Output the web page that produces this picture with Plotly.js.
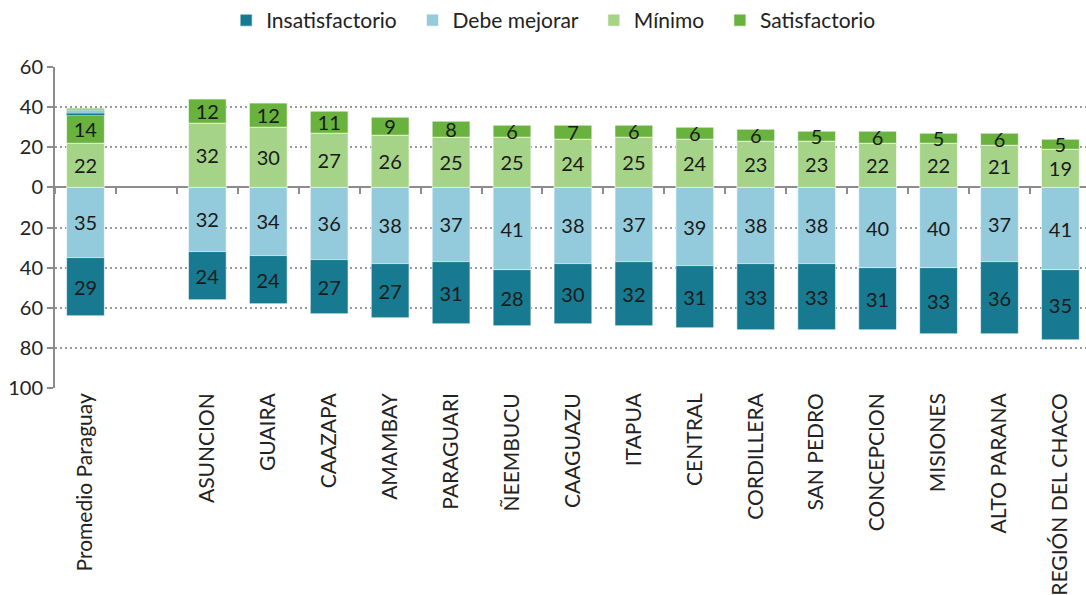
<!DOCTYPE html>
<html>
<head>
<meta charset="utf-8">
<script src="https://cdn.plot.ly/plotly-3.0.1.min.js"></script>
<style>html,body{margin:0;padding:0;background:#fff;}#chart{width:1086px;height:595px;}</style>
</head>
<body>
<div id="chart"></div>
<script>
const categories = ["Promedio Paraguay", " ", "ASUNCION", "GUAIRA", "CAAZAPA", "AMAMBAY", "PARAGUARI", "ÑEEMBUCU", "CAAGUAZU", "ITAPUA", "CENTRAL", "CORDILLERA", "SAN PEDRO", "CONCEPCION", "MISIONES", "ALTO PARANA", "REGIÓN DEL CHACO"];
const insatisfactorio = [29, null, 24, 24, 27, 27, 31, 28, 30, 32, 31, 33, 33, 31, 33, 36, 35];
const debeMejorar     = [35, null, 32, 34, 36, 38, 37, 41, 38, 37, 39, 38, 38, 40, 40, 37, 41];
const minimo          = [22, null, 32, 30, 27, 26, 25, 25, 24, 25, 24, 23, 23, 22, 22, 21, 19];
const satisfactorio   = [14, null, 12, 12, 11, 9, 8, 6, 7, 6, 6, 6, 5, 6, 5, 6, 5];
// small extra slivers drawn on top of the national average bar in the original
const extraTeal  = [1, null, null, null, null, null, null, null, null, null, null, null, null, null, null, null, null];
const extraBlue  = [1.5, null, null, null, null, null, null, null, null, null, null, null, null, null, null, null, null];
const extraGreen = [1, null, null, null, null, null, null, null, null, null, null, null, null, null, null, null, null];
const yTickVals = [-100, -80, -60, -40, -20, 0, 20, 40, 60];
const yTickText = ["100", "80", "60", "40", "20", "0", "20", "40", "60"];

const C_INS = "#177a90", C_DEB = "#93cbdc", C_MIN = "#a5d488", C_SAT = "#69b23d";
const FONT = "Lato, 'Liberation Sans', sans-serif";
const PAD = "\u00a0\u00a0";
const neg = a => a.map(v => v == null ? null : -v);
const lbl = a => a.map(v => v == null ? "" : String(v));

function barTrace(name, y, text, color, rank, showlegend, lw) {
  return {
    type: "bar", name: name, x: categories, y: y,
    text: text, textposition: text ? "inside" : "none",
    insidetextanchor: "middle", textangle: 0, constraintext: "none",
    textfont: {family: FONT, size: 20, color: "#1a1a1a"},
    marker: {color: color, line: {color: "rgba(255,255,255,0.6)", width: lw}},
    width: 0.62, legendrank: rank, showlegend: showlegend,
    hoverinfo: "skip", cliponaxis: false
  };
}

const data = [
  barTrace("Debe mejorar" + PAD, neg(debeMejorar), lbl(debeMejorar), C_DEB, 2, true, 1),
  barTrace("Insatisfactorio" + PAD, neg(insatisfactorio), lbl(insatisfactorio), C_INS, 1, true, 1),
  barTrace("Mínimo" + PAD, minimo, lbl(minimo), C_MIN, 3, true, 1),
  barTrace("Satisfactorio", satisfactorio, lbl(satisfactorio), C_SAT, 4, true, 1),
  barTrace("x1", extraTeal, null, C_INS, 10, false, 0),
  barTrace("x2", extraBlue, null, C_DEB, 11, false, 0),
  barTrace("x3", extraGreen, null, C_MIN, 12, false, 0),
  {type: "scatter", x: categories, y: categories.map(() => null), xaxis: "x2", yaxis: "y",
   showlegend: false, hoverinfo: "skip", mode: "markers"}
];

const xr = [-0.5, 16.42];
const layout = {
  width: 1086, height: 595,
  margin: {l: 55, r: 0, t: 62, b: 207},
  paper_bgcolor: "#fff", plot_bgcolor: "#fff",
  font: {family: FONT, size: 20, color: "#222"},
  barmode: "relative", bargap: 0.38,
  showlegend: true,
  legend: {orientation: "h", x: 0.166, xanchor: "left", y: 1.21, yanchor: "top",
           font: {family: FONT, size: 21, color: "#222"}, traceorder: "normal",
           itemwidth: 30, itemclick: false},
  xaxis: {type: "category", categoryarray: categories, categoryorder: "array", range: xr,
          showgrid: false, zeroline: false, showline: false, ticks: "",
          tickangle: -90, tickfont: {family: FONT, size: 21, color: "#222"}, fixedrange: true},
  xaxis2: {type: "category", categoryarray: categories, categoryorder: "array", range: xr,
           overlaying: "x", anchor: "free", position: 0.625, side: "bottom",
           showgrid: false, zeroline: false, showline: false, showticklabels: false,
           ticks: "outside", tickson: "boundaries", ticklen: 6, tickwidth: 2, tickcolor: "#8c8c8c"},
  yaxis: {range: [-100, 60], tickvals: yTickVals, ticktext: yTickText,
          showgrid: true, gridcolor: "#999999", gridwidth: 2, griddash: "2px,3px",
          zeroline: true, zerolinecolor: "#8c8c8c", zerolinewidth: 2,
          showline: true, linecolor: "#8c8c8c", linewidth: 2,
          ticks: "outside", ticklen: 6, tickwidth: 2, tickcolor: "#8c8c8c",
          tickfont: {family: FONT, size: 20, color: "#222"}, fixedrange: true}
};

Plotly.newPlot("chart", data, layout, {displayModeBar: false, staticPlot: true});
</script>
</body>
</html>
